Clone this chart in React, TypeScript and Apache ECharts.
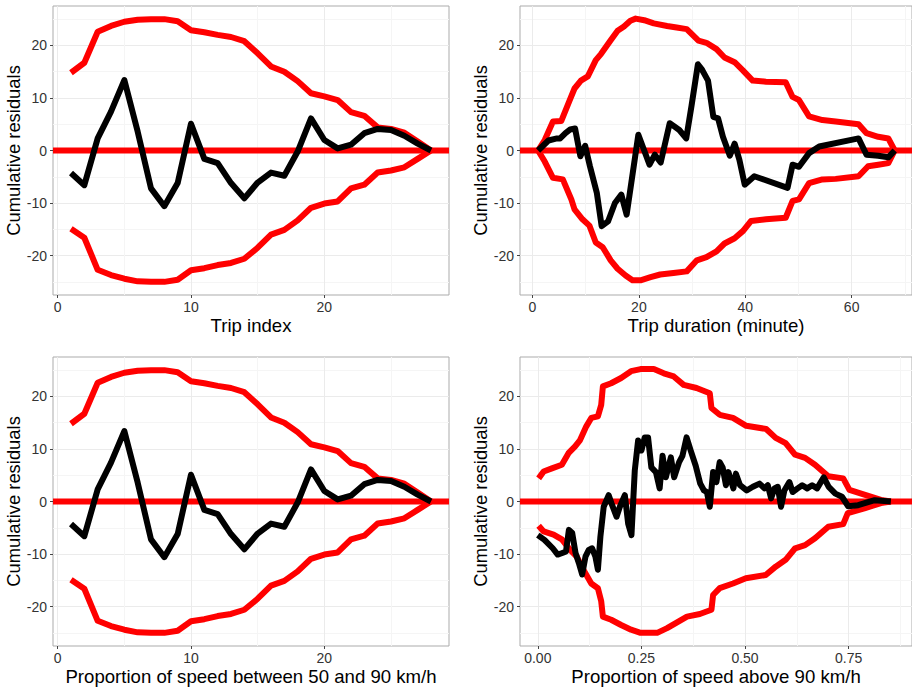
import React, { useEffect, useRef } from "react";
import * as echarts from "echarts";

// ---------- Panel 1 & 3: trip index ----------
const tripIndex = [1, 2, 3, 4, 5, 6, 7, 8, 9, 10, 11, 12, 13, 14, 15, 16, 17, 18, 19, 20, 21, 22, 23, 24, 25, 26, 27, 28];
const tripResid = [-4.3, -6.6, 2.3, 7.4, 13.4, 3.6, -7.2, -10.6, -6.2, 5.1, -1.6, -2.4, -6.2, -9.1, -6.1, -4.2, -4.8, -0.2, 6.1, 2.0, 0.4, 1.1, 3.3, 4.1, 3.9, 2.8, 1.3, 0];
const tripUpper = [14.8, 16.7, 22.6, 23.7, 24.5, 24.9, 25.0, 25.0, 24.6, 22.9, 22.5, 22.0, 21.6, 20.8, 18.5, 16.0, 15.0, 13.2, 10.9, 10.3, 9.6, 7.3, 6.6, 4.4, 4.1, 3.4, 1.7, 0];
const tripLower = [-14.9, -16.6, -22.7, -23.7, -24.4, -24.9, -25.0, -25.0, -24.6, -22.8, -22.4, -21.8, -21.4, -20.6, -18.5, -16.0, -15.1, -13.3, -10.9, -10.1, -9.7, -7.2, -6.5, -4.2, -3.8, -3.2, -1.6, 0];

// ---------- Panel 2: trip duration ----------
const durUpperX = [1.05, 2.3, 3.85, 5.4, 7.0, 7.9, 9.1, 10.4, 11.9, 12.9, 14.7, 16.0, 17.2, 18.4, 19.4, 21.0, 22.8, 25.3, 27.1, 29.0, 31.2, 32.7, 34.6, 36.1, 38.0, 39.6, 41.4, 43.9, 47.6, 48.9, 50.1, 52.0, 54.5, 57.0, 61.3, 62.8, 65.0, 66.9, 68.1];
const durUpper = [0, 2.0, 5.5, 5.6, 9.6, 11.8, 13.3, 14.1, 17.2, 18.4, 21.0, 22.8, 23.6, 24.7, 25.1, 24.8, 24.2, 23.7, 23.4, 23.1, 20.9, 20.5, 19.3, 17.7, 16.8, 15.2, 13.3, 13.1, 13.0, 10.2, 9.6, 6.5, 5.8, 5.5, 5.0, 3.3, 2.6, 2.3, 0];
const durLowerX = [1.05, 2.3, 3.85, 5.7, 7.3, 7.9, 9.4, 10.7, 11.9, 13.2, 14.7, 16.0, 17.5, 18.8, 20.3, 22.2, 24.0, 26.5, 29.0, 30.9, 32.7, 34.6, 36.1, 38.0, 39.6, 41.1, 43.9, 47.6, 48.9, 50.1, 52.0, 54.5, 57.0, 61.3, 63.1, 65.0, 66.9, 68.1];
const durLower = [0, -2.1, -5.2, -5.5, -9.3, -11.2, -13.1, -14.3, -17.5, -18.4, -20.9, -22.5, -23.8, -24.7, -24.7, -24.1, -23.6, -23.3, -23.0, -20.9, -20.3, -19.2, -17.7, -16.7, -15.3, -13.4, -13.1, -12.8, -9.6, -9.3, -6.2, -5.5, -5.4, -4.9, -3.0, -2.7, -2.4, 0];
const durX = [1.05, 3.0, 4.6, 5.2, 6.2, 7.1, 8.0, 9.0, 9.9, 10.8, 12.1, 13.0, 14.2, 15.5, 16.7, 17.7, 19.9, 22.0, 23.0, 24.1, 25.8, 27.6, 28.9, 29.9, 31.1, 31.8, 33.0, 34.0, 34.9, 35.8, 37.1, 38.0, 38.9, 39.9, 41.7, 47.95, 48.9, 50.1, 52.0, 53.9, 61.3, 62.8, 65.0, 66.9, 68.1];
const durY = [0, 1.9, 2.3, 2.3, 3.3, 4.0, 4.2, -1.1, 0.9, -3.0, -8.1, -14.4, -13.5, -10.0, -8.4, -12.2, 3.0, -2.7, -0.8, -2.3, 5.2, 3.9, 2.3, 8.5, 16.4, 15.5, 13.3, 6.4, 6.1, 2.6, -1.0, 1.3, -1.8, -6.5, -4.9, -7.1, -2.7, -3.1, -0.5, 0.75, 2.3, -0.8, -1.0, -1.3, 0];

// ---------- Panel 4: proportion of speed above 90 km/h ----------
const hiUpperX = [0.002, 0.014, 0.034, 0.058, 0.074, 0.09, 0.102, 0.117, 0.129, 0.145, 0.153, 0.157, 0.177, 0.201, 0.225, 0.248, 0.28, 0.304, 0.328, 0.352, 0.383, 0.415, 0.419, 0.439, 0.471, 0.503, 0.551, 0.574, 0.598, 0.621, 0.645, 0.669, 0.701, 0.737, 0.752, 0.788, 0.828, 0.852];
const hiUpper = [4.4, 5.7, 6.3, 7.0, 9.2, 10.5, 11.7, 14.3, 15.9, 16.2, 18.4, 21.9, 22.5, 23.5, 24.8, 25.2, 25.2, 24.4, 23.8, 22.2, 21.6, 20.6, 17.8, 16.5, 15.9, 14.4, 13.8, 12.1, 11.1, 8.9, 8.3, 7.0, 4.8, 4.4, 2.2, 1.3, 0.3, 0];
const hiLowerX = [0.002, 0.014, 0.038, 0.058, 0.078, 0.094, 0.11, 0.129, 0.145, 0.153, 0.157, 0.177, 0.201, 0.225, 0.248, 0.288, 0.312, 0.336, 0.36, 0.391, 0.419, 0.423, 0.439, 0.471, 0.502, 0.55, 0.574, 0.598, 0.621, 0.645, 0.669, 0.701, 0.737, 0.748, 0.788, 0.828, 0.852];
const hiLower = [-4.6, -5.7, -6.3, -7.2, -9.2, -10.5, -13.0, -15.6, -16.5, -19.0, -21.9, -22.5, -23.5, -24.4, -25.0, -25.0, -24.1, -23.0, -21.9, -21.4, -20.6, -17.8, -16.5, -15.6, -14.6, -14.0, -12.4, -11.1, -8.9, -8.3, -7.0, -4.8, -4.3, -2.2, -1.3, -0.3, 0];
const hiX = [0.0, 0.016, 0.036, 0.048, 0.059, 0.068, 0.075, 0.083, 0.091, 0.099, 0.107, 0.115, 0.123, 0.131, 0.139, 0.145, 0.151, 0.159, 0.171, 0.178, 0.19, 0.198, 0.21, 0.218, 0.226, 0.234, 0.242, 0.25, 0.258, 0.266, 0.274, 0.285, 0.294, 0.301, 0.309, 0.321, 0.329, 0.341, 0.349, 0.359, 0.369, 0.381, 0.392, 0.401, 0.408, 0.415, 0.423, 0.431, 0.439, 0.446, 0.454, 0.46, 0.472, 0.478, 0.488, 0.504, 0.519, 0.535, 0.547, 0.555, 0.563, 0.571, 0.579, 0.587, 0.595, 0.607, 0.615, 0.627, 0.638, 0.65, 0.662, 0.674, 0.69, 0.702, 0.718, 0.734, 0.749, 0.773, 0.813, 0.852];
const hiY = [-6.4, -7.3, -8.9, -10.1, -9.8, -9.5, -5.4, -6.0, -9.8, -11.7, -13.9, -10.5, -9.2, -8.9, -10.5, -13.0, -6.7, -1.0, 1.2, -0.4, -2.9, -1.0, 1.2, -4.2, -6.4, 5.9, 11.6, 9.7, 12.2, 12.2, 6.5, 5.6, 2.5, 8.7, 4.6, 8.4, 4.6, 7.5, 8.7, 12.2, 9.7, 6.8, 3.4, 2.1, 1.8, -1.0, 5.6, 3.7, 7.5, 6.5, 3.1, 5.6, 2.5, 5.3, 3.1, 2.1, 2.8, 3.4, 2.5, 3.1, 0.6, 2.5, 2.8, -1.0, 2.1, 3.7, 1.8, 2.5, 3.1, 2.5, 3.1, 2.5, 4.6, 2.8, 1.5, 0.9, -0.9, -0.7, 0.25, 0];

// ---------- Axis ticks ----------
const yMajor = [-20, -10, 0, 10, 20];
const yMinor = [-25, -15, -5, 5, 15, 25];
const tripMajor = [0, 10, 20];
const tripMinor = [5, 15, 25];
const durMajor = [0, 20, 40, 60];
const durMinor = [10, 30, 50, 70];
const hiMajor = [0, 0.25, 0.5, 0.75];
const hiMinor = [0.125, 0.375, 0.625, 0.875];

const FONT = "'Liberation Sans', Arial, sans-serif";
const RED = "#FF0000";

const zip = (xs: number[], ys: number[]) => xs.map((x, i) => [x, ys[i]]);

type Panel = {
  grid: { left: number; top: number; width: number; height: number };
  xMin: number;
  xMax: number;
  xMajor: number[];
  xMinor: number[];
  fmt: (v: number) => string;
  name: string;
  upper: number[][];
  lower: number[][];
  resid: number[][];
};

const panels: Panel[] = [
  {
    grid: { left: 53, top: 6, width: 396, height: 289 },
    xMin: -0.35, xMax: 29.35, xMajor: tripMajor, xMinor: tripMinor,
    fmt: (v) => String(v), name: "Trip index",
    upper: zip(tripIndex, tripUpper), lower: zip(tripIndex, tripLower), resid: zip(tripIndex, tripResid),
  },
  {
    grid: { left: 520, top: 6, width: 395, height: 289 },
    xMin: -2.35, xMax: 71.35, xMajor: durMajor, xMinor: durMinor,
    fmt: (v) => String(v), name: "Trip duration (minute)",
    upper: zip(durUpperX, durUpper), lower: zip(durLowerX, durLower), resid: zip(durX, durY),
  },
  {
    grid: { left: 53, top: 357, width: 396, height: 289 },
    xMin: -0.35, xMax: 29.35, xMajor: tripMajor, xMinor: tripMinor,
    fmt: (v) => String(v), name: "Proportion of speed between 50 and 90 km/h",
    upper: zip(tripIndex, tripUpper), lower: zip(tripIndex, tripLower), resid: zip(tripIndex, tripResid),
  },
  {
    grid: { left: 520, top: 357, width: 398, height: 289 },
    xMin: -0.043, xMax: 0.903, xMajor: hiMajor, xMinor: hiMinor,
    fmt: (v) => v.toFixed(2), name: "Proportion of speed above 90 km/h",
    upper: zip(hiUpperX, hiUpper), lower: zip(hiLowerX, hiLower), resid: zip(hiX, hiY),
  },
];

function buildOption() {
  const grid: any[] = [];
  const xAxis: any[] = [];
  const yAxis: any[] = [];
  const series: any[] = [];
  const lineBase = {
    type: "line",
    symbol: "none",
    silent: true,
    animation: false,
    clip: true,
  };
  panels.forEach((p, i) => {
    grid.push({
      ...p.grid,
      show: true,
      borderColor: "#ABABAB",
      borderWidth: 1,
      backgroundColor: "#FFFFFF",
      containLabel: false,
    });
    xAxis.push({
      type: "value",
      gridIndex: i,
      min: p.xMin,
      max: p.xMax,
      position: "bottom",
      axisLine: { show: false, onZero: false },
      axisTick: { show: true, customValues: p.xMajor, length: 3, lineStyle: { color: "#444444" } },
      axisLabel: { customValues: p.xMajor, formatter: p.fmt, color: "#333333", fontSize: 14, fontFamily: FONT, margin: 5 },
      splitLine: { show: true, lineStyle: { color: "#EBEBEB", width: 1 } },
      name: p.name,
      nameLocation: "middle",
      nameGap: 21,
      nameTextStyle: { fontSize: 18.6, color: "#000000", fontFamily: FONT },
    });
    xAxis.push({
      type: "value",
      gridIndex: i,
      min: p.xMin,
      max: p.xMax,
      position: "bottom",
      axisLine: { show: false, onZero: false },
      axisTick: { show: false, customValues: p.xMinor },
      axisLabel: { show: false, customValues: p.xMinor },
      splitLine: { show: true, lineStyle: { color: "#F5F5F5", width: 1 } },
    });
    yAxis.push({
      type: "value",
      gridIndex: i,
      min: -27.5,
      max: 27.5,
      position: "left",
      axisLine: { show: false, onZero: false },
      axisTick: { show: true, customValues: yMajor, length: 3, lineStyle: { color: "#444444" } },
      axisLabel: { customValues: yMajor, color: "#333333", fontSize: 14, fontFamily: FONT, margin: 6 },
      splitLine: { show: true, lineStyle: { color: "#EBEBEB", width: 1 } },
      name: "Cumulative residuals",
      nameLocation: "middle",
      nameGap: 28,
      nameRotate: 90,
      nameTextStyle: { fontSize: 18.4, color: "#000000", fontFamily: FONT },
    });
    yAxis.push({
      type: "value",
      gridIndex: i,
      min: -27.5,
      max: 27.5,
      position: "left",
      axisLine: { show: false, onZero: false },
      axisTick: { show: false, customValues: yMinor },
      axisLabel: { show: false, customValues: yMinor },
      splitLine: { show: true, lineStyle: { color: "#F5F5F5", width: 1 } },
    });
    const xi = 2 * i;
    const yi = 2 * i;
    const redStyle = { color: RED, width: 6, cap: "butt", join: "round" };
    series.push({
      ...lineBase,
      xAxisIndex: xi,
      yAxisIndex: yi,
      z: 2,
      data: [[p.xMin, 0], [p.xMax, 0]],
      lineStyle: redStyle,
      itemStyle: { color: RED },
    });
    series.push({
      ...lineBase,
      xAxisIndex: xi,
      yAxisIndex: yi,
      z: 3,
      data: p.upper,
      lineStyle: redStyle,
      itemStyle: { color: RED },
    });
    series.push({
      ...lineBase,
      xAxisIndex: xi,
      yAxisIndex: yi,
      z: 3,
      data: p.lower,
      lineStyle: redStyle,
      itemStyle: { color: RED },
    });
    series.push({
      ...lineBase,
      xAxisIndex: xi,
      yAxisIndex: yi,
      z: 4,
      data: p.resid,
      lineStyle: { color: "#000000", width: 6, cap: "butt", join: "round" },
      itemStyle: { color: "#000000" },
    });
  });
  return {
    animation: false,
    backgroundColor: "#FFFFFF",
    textStyle: { fontFamily: FONT },
    grid,
    xAxis,
    yAxis,
    series,
  };
}

export default function App() {
  const ref = useRef<HTMLDivElement>(null);
  useEffect(() => {
    if (!ref.current) return;
    const chart = echarts.init(ref.current, undefined, { renderer: "svg" });
    chart.setOption(buildOption() as any);
    return () => chart.dispose();
  }, []);
  return (
    <div
      ref={ref}
      style={{ position: "absolute", left: 0, top: 0, width: 912, height: 687, background: "#FFFFFF" }}
    />
  );
}
